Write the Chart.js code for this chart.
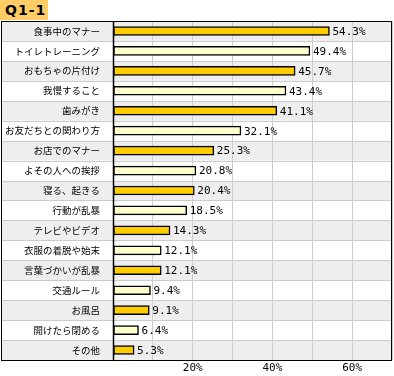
<!DOCTYPE html>
<html>
<head>
<meta charset="utf-8">
<script src="https://cdn.jsdelivr.net/npm/chart.js@4"></script>
<style>
  html, body { margin: 0; padding: 0; background: #fff; }
  #wrap { position: relative; width: 394px; height: 376px; }
  #title {
    position: absolute; left: 0; top: 0; width: 48px; height: 20px;
    background: #ffcc66; font: bold 14px "DejaVu Sans", sans-serif;
    line-height: 21px; padding-left: 5px; box-sizing: border-box; letter-spacing: 1px;
  }
  canvas { position: absolute; left: 0; top: 0; }
</style>
</head>
<body>
<div id="wrap">
  <canvas id="c" width="394" height="376"></canvas>
  <div id="title">Q1-1</div>
</div>
<script>
// Q1-1 — answers in percent, top to bottom
var categories = ['食事中のマナー', 'トイレトレーニング', 'おもちゃの片付け', '我慢すること', '歯みがき',
  'お友だちとの関わり方', 'お店でのマナー', 'よその人への挨拶', '寝る、起きる', '行動が乱暴',
  'テレビやビデオ', '衣服の着脱や始末', '言葉づかいが乱暴', '交通ルール', 'お風呂', '開けたら閉める', 'その他'];
var values = [54.3, 49.4, 45.7, 43.4, 41.1, 32.1, 25.3, 20.8, 20.4, 18.5, 14.3, 12.1, 12.1, 9.4, 9.1, 6.4, 5.3];
var xLabelTicks = [20, 40, 60];

var GOLD = '#ffcc00', CREAM = '#ffffcc';

// row bands + separators across the whole frame, and the frame itself
var framePlugin = {
  id: 'frame',
  beforeDraw: function (chart) {
    var ctx = chart.ctx, y = chart.scales.y, a = chart.chartArea;
    var rowH = (a.bottom - a.top) / categories.length;
    ctx.save();
    categories.forEach(function (_, i) {
      var top = y.getPixelForValue(i) - rowH / 2;
      if (i % 2 === 0) {
        ctx.fillStyle = '#eeeeee';
        ctx.fillRect(1, top, a.right - 1, rowH);
      }
      if (i > 0) {
        ctx.strokeStyle = '#cccccc';
        ctx.lineWidth = 1;
        ctx.beginPath();
        ctx.moveTo(1, Math.round(top) + 0.5);
        ctx.lineTo(a.right, Math.round(top) + 0.5);
        ctx.stroke();
      }
    });
    ctx.restore();
  },
  afterDatasetsDraw: function (chart) {
    var ctx = chart.ctx, a = chart.chartArea;
    var meta = chart.getDatasetMeta(0);
    ctx.save();
    ctx.fillStyle = '#000';
    ctx.font = '11px "DejaVu Sans Mono", monospace';
    ctx.textBaseline = 'middle';
    meta.data.forEach(function (bar, i) {
      ctx.fillText(values[i].toFixed(1) + '%', bar.x + 3, bar.y + 1);
    });
    // outer frame + label divider
    ctx.strokeStyle = '#000';
    ctx.lineWidth = 1;
    ctx.strokeRect(1.5, Math.round(a.top) + 0.5, a.right - 2, Math.round(a.bottom - a.top));
    ctx.lineWidth = 1.5;
    ctx.beginPath();
    ctx.moveTo(a.left + 0.5, a.top);
    ctx.lineTo(a.left + 0.5, a.bottom);
    ctx.stroke();
    ctx.restore();
  }
};

new Chart(document.getElementById('c'), {
  type: 'bar',
  data: {
    labels: categories,
    datasets: [{
      data: values,
      backgroundColor: values.map(function (_, i) { return i % 2 === 0 ? GOLD : CREAM; }),
      borderColor: '#000',
      borderWidth: 1.5,
      borderSkipped: false,
      barThickness: 9
    }]
  },
  options: {
    indexAxis: 'y',
    responsive: false,
    animation: false,
    layout: { padding: { left: 1, right: 1, top: 21, bottom: 0 } },
    scales: {
      x: {
        min: 0, max: 70,
        afterFit: function (s) { s.height = 16; },
        ticks: {
          stepSize: 10, maxRotation: 0, autoSkip: false, padding: 2,
          color: '#000', font: { family: '"DejaVu Sans Mono", monospace', size: 11 },
          callback: function (v) { return xLabelTicks.indexOf(v) >= 0 ? v + '%' : ''; }
        },
        grid: { color: '#cccccc', drawTicks: false },
        border: { display: false }
      },
      y: {
        afterFit: function (s) { s.width = 112; },
        ticks: {
          color: '#000', padding: 5,
          font: { family: '"Noto Sans CJK JP", sans-serif', size: 9.5 }
        },
        grid: { display: false },
        border: { display: false }
      }
    },
    plugins: { legend: { display: false }, tooltip: { enabled: false } }
  },
  plugins: [framePlugin]
});
</script>
</body>
</html>
